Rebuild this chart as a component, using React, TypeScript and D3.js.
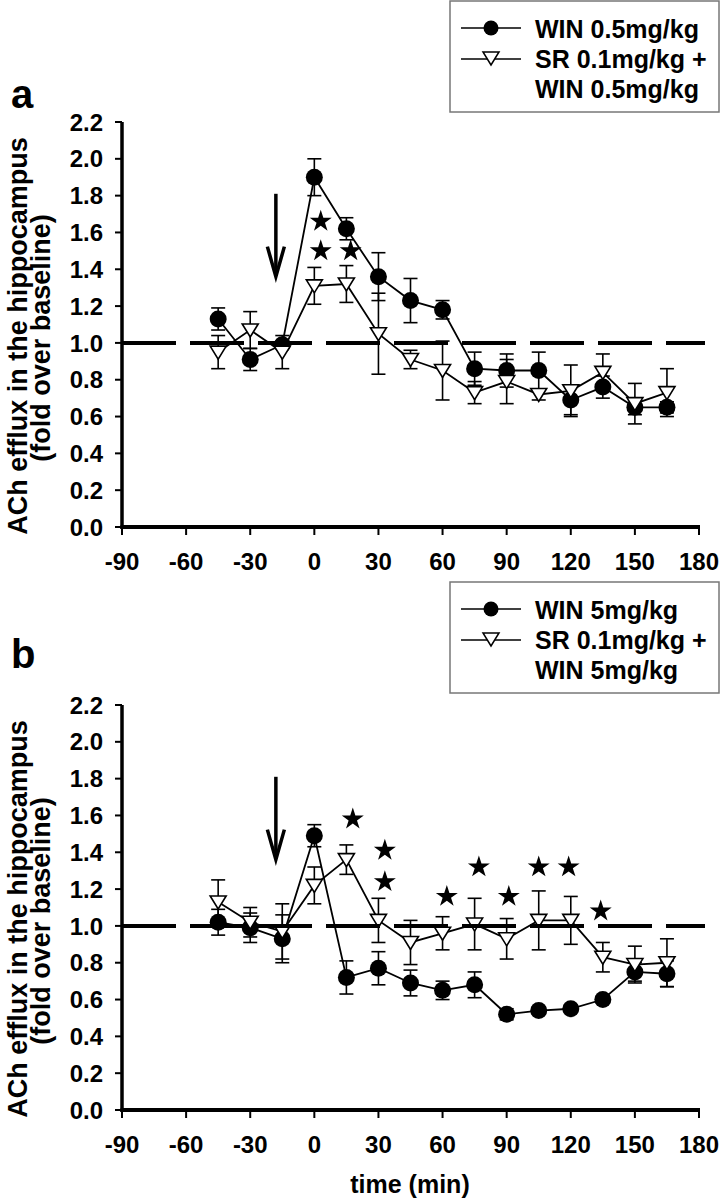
import React from "react";
import * as d3 from "d3";

const times = [-45, -30, -15, 0, 15, 30, 45, 60, 75, 90, 105, 120, 135, 150, 165];

// Panel a
const winA = [1.13, 0.91, 0.99, 1.9, 1.62, 1.36, 1.23, 1.18, 0.86, 0.85, 0.85, 0.69, 0.76, 0.65, 0.65];
const winAErr = [0.06, 0.06, 0.02, 0.1, 0.06, 0.13, 0.12, 0.05, 0.09, 0.09, 0.1, 0.08, 0.06, 0.04, 0.03];
const srA = [0.95, 1.07, 0.95, 1.31, 1.32, 1.05, 0.91, 0.85, 0.73, 0.79, 0.72, 0.74, 0.84, 0.67, 0.73];
const srAErr = [0.09, 0.1, 0.09, 0.1, 0.1, 0.22, 0.05, 0.16, 0.06, 0.12, 0.03, 0.14, 0.1, 0.11, 0.13];
const starTimesA = [3, 3, 17];
const starValuesA = [1.66, 1.5, 1.5];

// Panel b
const winB = [1.02, 0.99, 0.93, 1.49, 0.72, 0.77, 0.69, 0.65, 0.68, 0.52, 0.54, 0.55, 0.6, 0.75, 0.74];
const winBErr = [0.07, 0.08, 0.13, 0.06, 0.09, 0.09, 0.07, 0.05, 0.07, 0.03, 0.02, 0.02, 0.02, 0.05, 0.07];
const srB = [1.13, 1.02, 0.97, 1.22, 1.36, 1.03, 0.91, 0.96, 1.01, 0.93, 1.03, 1.03, 0.83, 0.79, 0.8];
const srBErr = [0.12, 0.08, 0.15, 0.1, 0.08, 0.12, 0.12, 0.09, 0.14, 0.11, 0.16, 0.13, 0.08, 0.1, 0.13];
const starTimesB = [18, 33, 33, 62, 77, 91, 105, 119, 134];
const starValuesB = [1.58, 1.41, 1.24, 1.16, 1.32, 1.16, 1.32, 1.32, 1.08];

const xTicks = [-90, -60, -30, 0, 30, 60, 90, 120, 150, 180];
const yTicks = [0, 0.2, 0.4, 0.6, 0.8, 1.0, 1.2, 1.4, 1.6, 1.8, 2.0, 2.2];
const arrowTime = -18;
const arrowFrom = 1.81;
const arrowTo = 1.36;
const baseline = 1.0;

const FONT = "'Liberation Sans', Arial, sans-serif";
const TRI = "M-8,-6L8,-6L0,7Z";

type PanelProps = {
  off: number;
  win: number[];
  winErr: number[];
  sr: number[];
  srErr: number[];
  starT: number[];
  starV: number[];
  legWin: string;
  legSr1: string;
  legSr2: string;
  letter: string;
  letterY: number;
  legTop: number;
};

function Panel(p: PanelProps) {
  const { off } = p;
  const x = d3.scaleLinear().domain([-90, 180]).range([122, 699]);
  const y = d3.scaleLinear().domain([0, 2.2]).range([527 + off, 122 + off]);
  const line = d3
    .line<number>()
    .x((_, i) => x(times[i]))
    .y((d) => y(d));
  const star = d3.symbol().type(d3.symbolStar).size(150)() as string;

  const errBars = (vals: number[], errs: number[], key: string) =>
    vals.map((v, i) => {
      const cx = x(times[i]);
      const y1 = y(v + errs[i]);
      const y2 = y(v - errs[i]);
      return (
        <g key={key + i} stroke="#000" strokeWidth={1.6}>
          <line x1={cx} x2={cx} y1={y1} y2={y2} />
          <line x1={cx - 7} x2={cx + 7} y1={y1} y2={y1} />
          <line x1={cx - 7} x2={cx + 7} y1={y2} y2={y2} />
        </g>
      );
    });

  const ax = x(arrowTime);
  const aTip = y(arrowTo);
  const legTop = p.legTop;

  return (
    <g>
      <text x={11} y={p.letterY} fontFamily={FONT} fontWeight="bold" fontSize={40}>
        {p.letter}
      </text>
      <rect x={450} y={legTop} width={269} height={111} fill="#fff" stroke="#777" strokeWidth={1.5} />
      <line x1={461} x2={521} y1={legTop + 27} y2={legTop + 27} stroke="#000" strokeWidth={1.6} />
      <circle cx={491} cy={legTop + 27} r={7.5} fill="#000" />
      <line x1={461} x2={521} y1={legTop + 58} y2={legTop + 58} stroke="#000" strokeWidth={1.6} />
      <path d={TRI} transform={`translate(491,${legTop + 57})`} fill="#fff" stroke="#000" strokeWidth={1.5} />
      <g fontFamily={FONT} fontWeight="bold" fontSize={25} fill="#000">
        <text x={535} y={legTop + 37}>{p.legWin}</text>
        <text x={535} y={legTop + 67}>{p.legSr1}</text>
        <text x={535} y={legTop + 97}>{p.legSr2}</text>
      </g>

      <g fontFamily={FONT} fontWeight="bold" fontSize={27} textAnchor="middle">
        <text transform={`translate(27,${336 + off}) rotate(-90)`}>ACh efflux in the hippocampus</text>
        <text transform={`translate(50,${338 + off}) rotate(-90)`}>(fold over baseline)</text>
      </g>

      <line x1={x(-90)} x2={x(-90)} y1={y(2.2)} y2={y(0) + 2} stroke="#000" strokeWidth={3.5} />
      <line x1={x(-90) - 1.5} x2={x(180) + 1} y1={y(0)} y2={y(0)} stroke="#000" strokeWidth={4} />
      {yTicks.map((t) => (
        <g key={"yt" + t}>
          <line x1={x(-90) - 7} x2={x(-90)} y1={y(t)} y2={y(t)} stroke="#000" strokeWidth={2} />
          <text x={103} y={y(t)} dy="0.36em" textAnchor="end" fontFamily={FONT} fontWeight="bold" fontSize={24}>
            {t.toFixed(1)}
          </text>
        </g>
      ))}
      {xTicks.map((t) => (
        <g key={"xt" + t}>
          <line x1={x(t)} x2={x(t)} y1={y(0)} y2={y(0) + 8} stroke="#000" strokeWidth={2} />
          <text x={x(t)} y={y(0) + 43} textAnchor="middle" fontFamily={FONT} fontWeight="bold" fontSize={24}>
            {t}
          </text>
        </g>
      ))}

      <g stroke="#000" strokeWidth={3.5} fill="none" strokeLinecap="butt">
        <line x1={ax} x2={ax} y1={y(arrowFrom)} y2={aTip - 1} />
        <path d={`M${ax - 8.5},${aTip - 30}L${ax},${aTip}L${ax + 8.5},${aTip - 30}`} strokeLinejoin="miter" />
      </g>

      {errBars(p.win, p.winErr, "we")}
      <path d={line(p.win) as string} fill="none" stroke="#000" strokeWidth={1.8} />
      {p.win.map((v, i) => (
        <circle key={"wc" + i} cx={x(times[i])} cy={y(v)} r={8.5} fill="#000" />
      ))}
      {errBars(p.sr, p.srErr, "se")}
      <path d={line(p.sr) as string} fill="none" stroke="#000" strokeWidth={1.8} />
      {p.sr.map((v, i) => (
        <path
          key={"st" + i}
          d={TRI}
          transform={`translate(${x(times[i])},${y(v)})`}
          fill="#fff"
          stroke="#000"
          strokeWidth={1.6}
        />
      ))}

      <line
        x1={x(-90)}
        x2={705}
        y1={y(baseline)}
        y2={y(baseline)}
        stroke="#000"
        strokeWidth={4}
        strokeDasharray="54,14"
      />

      {p.starT.map((t, i) => (
        <path key={"star" + i} d={star} transform={`translate(${x(t)},${y(p.starV[i])})`} fill="#000" />
      ))}
    </g>
  );
}

export default function App() {
  return (
    <svg
      width={721}
      height={1199}
      viewBox="0 0 721 1199"
      style={{ position: "absolute", left: 0, top: 0, background: "#fff" }}
    >
      <rect x={0} y={0} width={721} height={1199} fill="#fff" />
      <Panel
        off={0}
        win={winA}
        winErr={winAErr}
        sr={srA}
        srErr={srAErr}
        starT={starTimesA}
        starV={starValuesA}
        legWin="WIN 0.5mg/kg"
        legSr1="SR 0.1mg/kg +"
        legSr2="WIN 0.5mg/kg"
        letter="a"
        letterY={108}
        legTop={1}
      />
      <Panel
        off={583}
        win={winB}
        winErr={winBErr}
        sr={srB}
        srErr={srBErr}
        starT={starTimesB}
        starV={starValuesB}
        legWin="WIN 5mg/kg"
        legSr1="SR 0.1mg/kg +"
        legSr2="WIN 5mg/kg"
        letter="b"
        letterY={668}
        legTop={582}
      />
      <text x={410} y={1193} textAnchor="middle" fontFamily={FONT} fontWeight="bold" fontSize={25}>
        time (min)
      </text>
    </svg>
  );
}
